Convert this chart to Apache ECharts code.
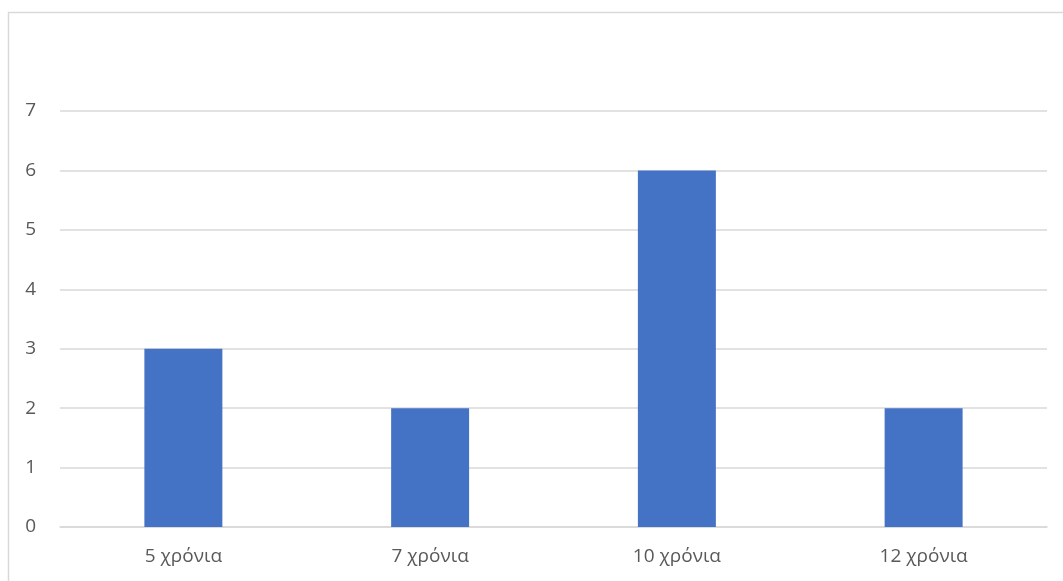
<!DOCTYPE html>
<html><head><meta charset="utf-8">
<script src="https://cdn.jsdelivr.net/npm/echarts@6/dist/echarts.min.js"></script>
<style>html,body{margin:0;padding:0;background:#fff}#c{width:1063px;height:581px}</style>
</head><body><div id="c"></div>
<script>
const categories = ['5 χρόνια', '7 χρόνια', '10 χρόνια', '12 χρόνια'];
const values = [3, 2, 6, 2];
const yTicks = [0, 1, 2, 3, 4, 5, 6, 7];

const chart = echarts.init(document.getElementById('c'), null, {renderer: 'canvas'});
chart.setOption({
  animation: false,
  backgroundColor: '#fff',
  textStyle: {fontFamily: 'Open Sans, Noto Sans, sans-serif'},
  graphic: [{
    type: 'rect', silent: true,
    shape: {x: 8.5, y: 12.5, width: 1200, height: 700},
    style: {fill: 'none', stroke: '#d9d9d9', lineWidth: 1.5}
  }],
  grid: {left: 60, right: 16, top: 111, bottom: 54},
  xAxis: {
    type: 'category', data: categories,
    axisTick: {show: false},
    axisLine: {lineStyle: {color: '#d9d9d9', width: 1.5}},
    axisLabel: {color: '#595959', fontSize: 19, margin: 20}
  },
  yAxis: {
    type: 'value', min: yTicks[0], max: yTicks[yTicks.length - 1], interval: 1,
    axisLine: {show: false}, axisTick: {show: false},
    splitLine: {lineStyle: {color: '#d9d9d9', width: 1.5}},
    axisLabel: {color: '#595959', fontSize: 19, margin: 24}
  },
  series: [{
    type: 'bar', data: values, barWidth: '31.6%',
    itemStyle: {color: '#4472C4'}
  }]
});
</script></body></html>
